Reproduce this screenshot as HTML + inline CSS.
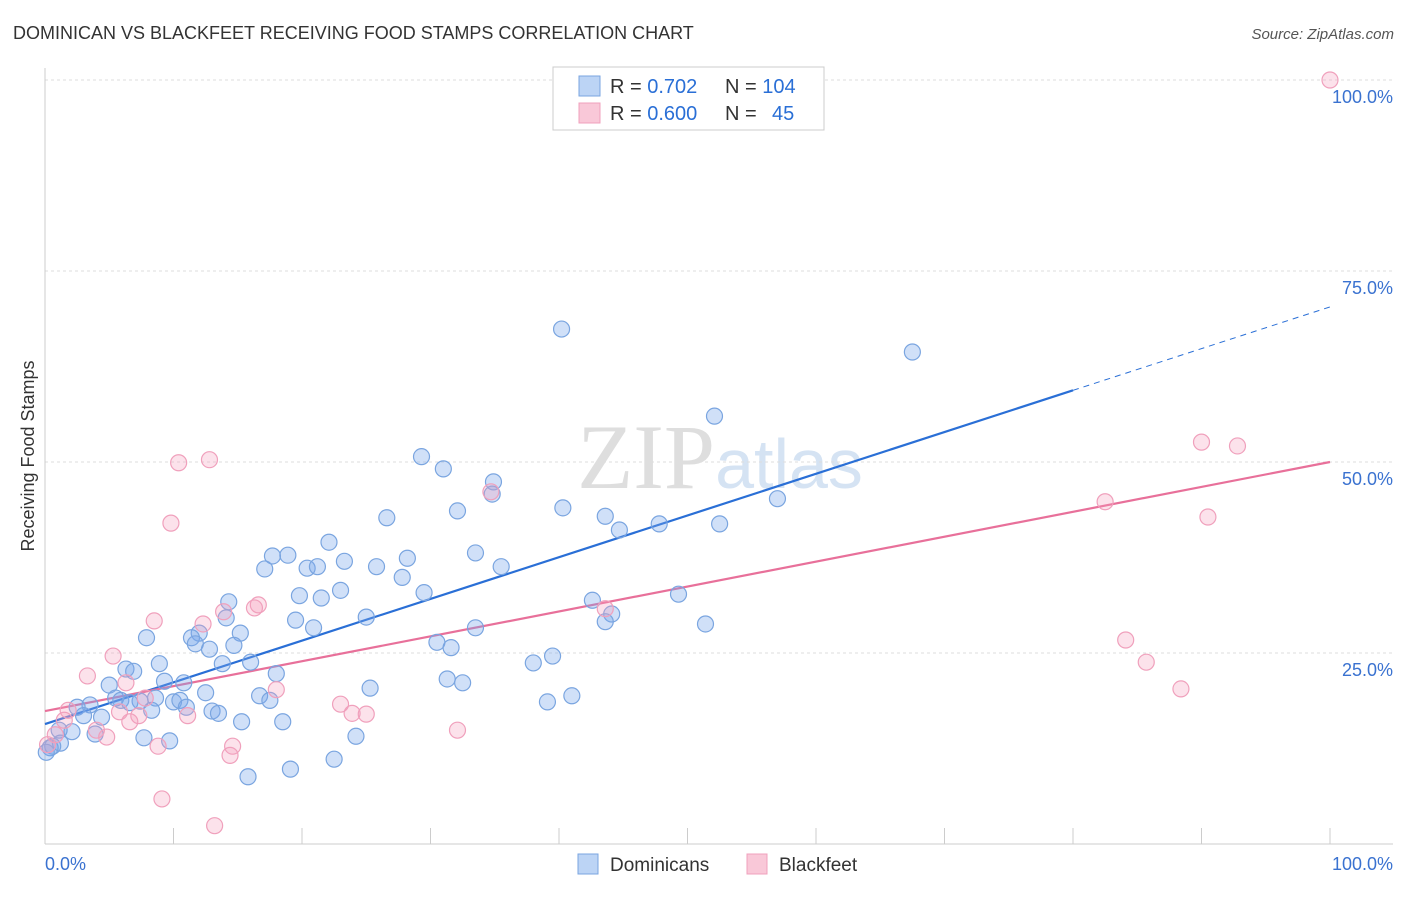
<!DOCTYPE html>
<html><head><meta charset="utf-8"><style>
body{margin:0;background:#fff;font-family:"Liberation Sans",sans-serif;}
svg text{font-family:"Liberation Sans",sans-serif;}
</style></head><body>
<svg id="chart" width="1406" height="892" viewBox="0 0 1406 892" xmlns="http://www.w3.org/2000/svg">
<text x="13" y="39" font-size="18" fill="#333">DOMINICAN VS BLACKFEET RECEIVING FOOD STAMPS CORRELATION CHART</text>
<text x="1394" y="39" font-size="15" fill="#555" text-anchor="end" font-style="italic">Source: ZipAtlas.com</text>
<text x="720" y="488" font-size="92" text-anchor="middle" fill="#e4e8ee"><tspan font-family="Liberation Serif" fill="#dedede">ZIP</tspan><tspan fill="#d5e3f3" font-size="70">atlas</tspan></text>
<g id="grid"></g>
<line x1="45" y1="68" x2="45" y2="844" stroke="#ccc"/>
<line x1="45" y1="844" x2="1393" y2="844" stroke="#ccc"/>
<g id="xticks"></g>
<text transform="translate(34,456) rotate(-90)" font-size="18" fill="#333" text-anchor="middle">Receiving Food Stamps</text>
<text x="45" y="870" font-size="18" fill="#3a72d0">0.0%</text>
<text x="1393" y="870" font-size="18" fill="#3a72d0" text-anchor="end">100.0%</text>
<g id="lines"></g>
<g id="pts"></g>
<g>
<rect x="553" y="67" width="271" height="63" fill="#fff" stroke="#ccc"/>
<rect x="579" y="76" width="21" height="20" fill="#bcd4f5" stroke="#7aa5e0"/>
<rect x="579" y="103" width="21" height="20" fill="#f9c8d8" stroke="#f0a0bc"/>
<text x="610" y="93" font-size="20" fill="#333">R = <tspan fill="#2a6fd6">0.702</tspan><tspan x="725">N = </tspan><tspan fill="#2a6fd6">104</tspan></text>
<text x="610" y="120" font-size="20" fill="#333">R = <tspan fill="#2a6fd6">0.600</tspan><tspan x="725">N = </tspan><tspan fill="#2a6fd6" x="772">45</tspan></text>
</g>
<g>
<rect x="578" y="854" width="20" height="20" fill="#bcd4f5" stroke="#7aa5e0"/>
<text x="610" y="871" font-size="19" fill="#333">Dominicans</text>
<rect x="747" y="854" width="20" height="20" fill="#f9c8d8" stroke="#f0a0bc"/>
<text x="779" y="871" font-size="19" fill="#333">Blackfeet</text>
</g>
</svg>
<script>
const yTicks=[25,50,75,100];
const yTickLabels=["25.0%","50.0%","75.0%","100.0%"];
const xTicks=[0,10,20,30,40,50,60,70,80,90,100];
const blueX=[40.2,67.5,52.1,57.0,29.3,31.0,34.9,34.8,32.1,40.3,43.6,44.7,47.8,52.5,26.6,33.5,22.1,28.2,23.3,25.8,35.5,27.8,18.9,17.7,17.1,20.4,21.2,23.0,19.8,21.5,29.5,42.6,44.1,43.6,49.3,51.4,25.0,19.5,20.9,33.5,14.3,14.1,15.2,12.0,11.4,7.9,11.7,12.8,14.7,30.5,31.6,39.5,38.0,16.0,13.8,8.9,6.3,6.9,18.0,31.3,32.5,9.3,10.8,5.0,25.3,12.5,16.7,41.0,39.1,8.6,5.5,5.9,10.0,10.5,17.5,7.4,3.5,6.6,2.5,11.0,8.3,13.0,13.5,4.4,3.0,15.3,18.5,1.1,2.1,3.9,24.2,7.7,9.7,1.2,0.6,0.4,0.1,19.1,22.5,15.8];
const blueY=[67.4,64.4,56.0,45.2,50.7,49.1,47.4,45.8,43.6,44.0,42.9,41.1,41.9,41.9,42.7,38.1,39.5,37.4,37.0,36.3,36.3,34.9,37.8,37.7,36.0,36.1,36.3,33.2,32.5,32.2,32.9,31.9,30.1,29.1,32.7,28.8,29.7,29.3,28.3,28.3,31.7,29.6,27.6,27.6,27.0,27.0,26.2,25.5,26.0,26.4,25.7,24.6,23.7,23.8,23.6,23.6,22.9,22.6,22.3,21.6,21.1,21.3,21.1,20.8,20.4,19.8,19.4,19.4,18.6,19.1,19.1,18.8,18.6,18.8,18.8,18.7,18.2,18.5,17.9,17.9,17.5,17.4,17.1,16.6,16.8,16.0,16.0,14.9,14.7,14.4,14.1,13.9,13.5,13.2,12.8,12.6,12.0,9.8,11.1,8.8];
const pinkX=[100,90.0,92.8,82.5,90.5,84.1,85.7,88.4,34.7,10.4,12.8,9.8,16.6,16.3,13.9,43.6,8.5,12.3,5.3,3.3,6.3,18.0,7.8,23.0,1.8,5.8,7.3,23.9,25.0,11.1,6.6,4.0,4.8,32.1,0.8,14.6,8.8,14.4,9.1,13.2,0.2,1.5];
const pinkY=[100,52.6,52.1,44.8,42.8,26.7,23.8,20.3,46.1,49.9,50.3,42.0,31.3,30.9,30.4,30.8,29.2,28.8,24.6,22.0,21.1,20.2,19.1,18.3,17.5,17.3,16.8,17.1,17.0,16.8,16.0,14.9,14.0,14.9,14.3,12.8,12.8,11.6,5.9,2.4,13.0,16.2];
const blueFit=[15.7,70.3], pinkFit=[17.4,50.0];
const blueSolidEnd=80;
const X=v=>45+v*12.85, Y=v=>844-v*7.64;
const NS="http://www.w3.org/2000/svg";
function mk(tag,attrs,parent){const e=document.createElementNS(NS,tag);for(const k in attrs)e.setAttribute(k,attrs[k]);document.getElementById(parent).appendChild(e);return e;}
yTicks.forEach((t,i)=>{
 const l=mk('line',{x1:45,x2:1393,y1:Y(t),y2:Y(t),stroke:'#ddd','stroke-dasharray':'3,3'},'grid');
 
 
 const tx=mk('text',{x:1393,y:Y(t)+23,'font-size':18,fill:'#3a72d0','text-anchor':'end'},'grid');
 tx.textContent=yTickLabels[i];
 
 
});
xTicks.forEach(t=>{
 const l=mk('line',{x1:X(t),x2:X(t),y1:828,y2:844,stroke:'#ccc'},'xticks');
 
 
});
function pts(xs,ys,fill,stroke,name){xs.forEach((x,i)=>{
 const c=mk('circle',{cx:X(x),cy:Y(ys[i]),r:8,fill:fill,stroke:stroke,'stroke-width':1.2},'pts');
 
 
});}
pts(blueX,blueY,'rgba(120,165,235,0.35)','#7aa5e0','dominican-point');
pts(pinkX,pinkY,'rgba(245,160,190,0.3)','#f0a0bc','blackfeet-point');
const bAt=v=>blueFit[0]+(blueFit[1]-blueFit[0])*v/100;
let l1=mk('line',{x1:X(0),y1:Y(bAt(0)),x2:X(blueSolidEnd),y2:Y(bAt(blueSolidEnd)),stroke:'#2a6fd6','stroke-width':2.2},'lines');


let l2=mk('line',{x1:X(blueSolidEnd),y1:Y(bAt(blueSolidEnd)),x2:X(100),y2:Y(bAt(100)),stroke:'#2a6fd6','stroke-width':1,'stroke-dasharray':'6,5'},'lines');


let l3=mk('line',{x1:X(0),y1:Y(pinkFit[0]),x2:X(100),y2:Y(pinkFit[1]),stroke:'#e8709a','stroke-width':2.2},'lines');


</script>
</body></html>
